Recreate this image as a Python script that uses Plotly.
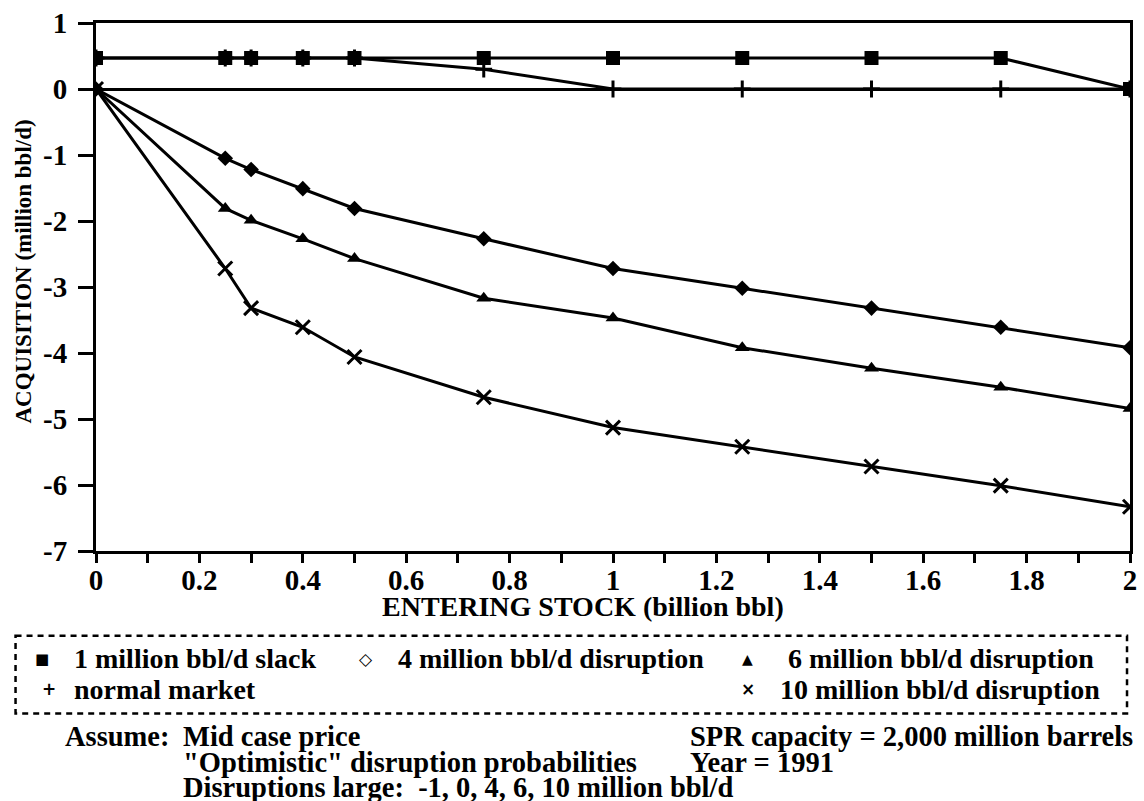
import plotly.graph_objects as go

# ---------------- data ----------------
ENTERING_STOCK = [0, 0.25, 0.3, 0.4, 0.5, 0.75, 1.0, 1.25, 1.5, 1.75, 2.0]
SLACK_1M = [0.47, 0.47, 0.47, 0.47, 0.47, 0.47, 0.47, 0.47, 0.47, 0.47, 0.0]
NORMAL_MARKET = [0.47, 0.47, 0.47, 0.47, 0.47, 0.30, 0.0, 0.0, 0.0, 0.0, 0.0]
DISRUPT_4M = [0, -1.05, -1.22, -1.51, -1.81, -2.27, -2.72, -3.02, -3.32, -3.61, -3.92]
DISRUPT_6M = [0, -1.81, -1.99, -2.27, -2.57, -3.17, -3.47, -3.92, -4.23, -4.52, -4.84]
DISRUPT_10M = [0, -2.72, -3.32, -3.61, -4.06, -4.67, -5.13, -5.42, -5.72, -6.01, -6.33]

X_TICKS = [0, 0.2, 0.4, 0.6, 0.8, 1.0, 1.2, 1.4, 1.6, 1.8, 2.0]
X_TICK_TEXT = ["0", "0.2", "0.4", "0.6", "0.8", "1", "1.2", "1.4", "1.6", "1.8", "2"]
Y_TICKS = [1, 0, -1, -2, -3, -4, -5, -6, -7]
Y_TICK_TEXT = ["1", "0", "-1", "-2", "-3", "-4", "-5", "-6", "-7"]

SERIES_NAMES = ["1 million bbl/d slack", "4 million bbl/d disruption",
                "6 million bbl/d disruption", "normal market",
                "10 million bbl/d disruption"]
X_TITLE = "ENTERING STOCK (billion bbl)"
Y_TITLE = "ACQUISITION (million bbl/d)"
NOTES_LEFT = ["Mid case price", "\"Optimistic\" disruption probabilities",
              "Disruptions large:  -1, 0, 4, 6, 10 million bbl/d"]
NOTES_RIGHT = ["SPR capacity = 2,000 million barrels", "Year = 1991"]

# ---------------- layout helpers ----------------
W, H = 1144, 801
ML, MR, MT, MB = 96, 7, 21, 250
PW, PH = W - ML - MR, H - MT - MB
FONT = "Liberation Serif"


def px(xp):
    return (xp - ML) / PW


def py(yp):
    return (H - MB - yp) / PH


fig = go.Figure()

LW = 3
fig.add_trace(go.Scatter(x=ENTERING_STOCK, y=NORMAL_MARKET, mode="lines+markers",
                         name=SERIES_NAMES[3],
                         line=dict(color="black", width=LW),
                         marker=dict(symbol="cross-thin", size=12,
                                     line=dict(color="black", width=3))))
fig.add_trace(go.Scatter(x=ENTERING_STOCK, y=SLACK_1M, mode="lines+markers",
                         name=SERIES_NAMES[0],
                         line=dict(color="black", width=LW),
                         marker=dict(symbol="square", size=14, color="black")))
fig.add_trace(go.Scatter(x=ENTERING_STOCK, y=DISRUPT_4M, mode="lines+markers",
                         name=SERIES_NAMES[1],
                         line=dict(color="black", width=LW),
                         marker=dict(symbol="diamond", size=12, color="black")))
fig.add_trace(go.Scatter(x=ENTERING_STOCK, y=DISRUPT_6M, mode="lines+markers",
                         name=SERIES_NAMES[2],
                         line=dict(color="black", width=LW),
                         marker=dict(symbol="triangle-up", size=13, color="black")))
fig.add_trace(go.Scatter(x=ENTERING_STOCK, y=DISRUPT_10M, mode="lines+markers",
                         name=SERIES_NAMES[4],
                         line=dict(color="black", width=LW),
                         marker=dict(symbol="x-thin", size=14,
                                     line=dict(color="black", width=3))))

TICK_FONT = dict(family=FONT, size=29, color="black", weight="bold")
fig.update_layout(
    width=W, height=H,
    margin=dict(l=ML, r=MR, t=MT, b=MB),
    paper_bgcolor="white", plot_bgcolor="white",
    showlegend=False,
    font=dict(family=FONT, color="black", size=28),
    xaxis=dict(range=[0, 2], tickvals=X_TICKS, ticktext=X_TICK_TEXT,
               showline=True, linecolor="black", linewidth=3, mirror=True,
               ticks="outside", ticklen=9, tickwidth=3, tickcolor="black",
               minor=dict(dtick=0.1, tick0=0, ticks="outside", ticklen=9,
                          tickwidth=3, tickcolor="black", showgrid=False),
               showgrid=False, zeroline=False,
               tickfont=TICK_FONT, ticklabelstandoff=-8),
    yaxis=dict(range=[-7, 1], tickvals=Y_TICKS, ticktext=Y_TICK_TEXT,
               showline=True, linecolor="black", linewidth=3, mirror=True,
               ticks="outside", ticklen=15, tickwidth=3, tickcolor="black",
               showgrid=False, zeroline=True, zerolinecolor="black",
               zerolinewidth=3,
               tickfont=TICK_FONT, ticklabelstandoff=5),
)

anns = []
text_font = dict(family=FONT, size=28.5, color="black", weight="bold")
leg_font = dict(family=FONT, size=28, color="black", weight="bold")
# axis titles
anns.append(dict(text=X_TITLE, x=px(586), y=py(607), xref="paper", yref="paper",
                 xanchor="center", yanchor="middle", showarrow=False,
                 font=dict(family=FONT, size=28, color="black", weight="bold")))
anns.append(dict(text=Y_TITLE, x=px(23), y=py(270), xref="paper", yref="paper",
                 xanchor="center", yanchor="middle", showarrow=False, textangle=-90,
                 font=dict(family=FONT, size=23, color="black", weight="bold")))

# legend (manual)
legend_items = [
    ("■", 42, 659, SERIES_NAMES[0], 72, 15),
    ("◇", 368, 659, SERIES_NAMES[1], 398, 17),
    ("▲", 752, 659, SERIES_NAMES[2], 791, 14),
    ("+", 49, 690, SERIES_NAMES[3], 72, 17),
    ("×", 752, 690, SERIES_NAMES[4], 783, 17),
]
for sym, sx, sy, label, tx, ss in legend_items:
    anns.append(dict(text=sym, x=px(sx), y=py(sy), xref="paper", yref="paper",
                     xanchor="center", yanchor="middle", showarrow=False,
                     font=dict(family="DejaVu Sans", size=ss, color="black",
                               weight="bold")))
    anns.append(dict(text=label, x=px(tx), y=py(sy), xref="paper", yref="paper",
                     xanchor="left", yanchor="middle", showarrow=False, font=leg_font))

# notes
NOTE_Y = [737, 763, 788]
anns.append(dict(text="Assume:", x=px(63), y=py(NOTE_Y[0]), xref="paper", yref="paper",
                 xanchor="left", yanchor="middle", showarrow=False, font=text_font))
for i, t in enumerate(NOTES_LEFT):
    anns.append(dict(text=t, x=px(182), y=py(NOTE_Y[i]), xref="paper", yref="paper",
                     xanchor="left", yanchor="middle", showarrow=False, font=text_font))
for i, t in enumerate(NOTES_RIGHT):
    anns.append(dict(text=t, x=px(692), y=py(NOTE_Y[i]), xref="paper", yref="paper",
                     xanchor="left", yanchor="middle", showarrow=False, font=text_font))

fig.update_layout(annotations=anns)

fig.add_shape(type="rect", xref="paper", yref="paper",
              x0=px(15), x1=px(1134), y0=py(636), y1=py(714),
              line=dict(color="black", width=2.5, dash="6px,5px"))

fig.write_html("out.html",
               config={"displayModeBar": False},
               post_script="document.body.style.margin='0px';"
                           "document.body.style.overflow='hidden';")
